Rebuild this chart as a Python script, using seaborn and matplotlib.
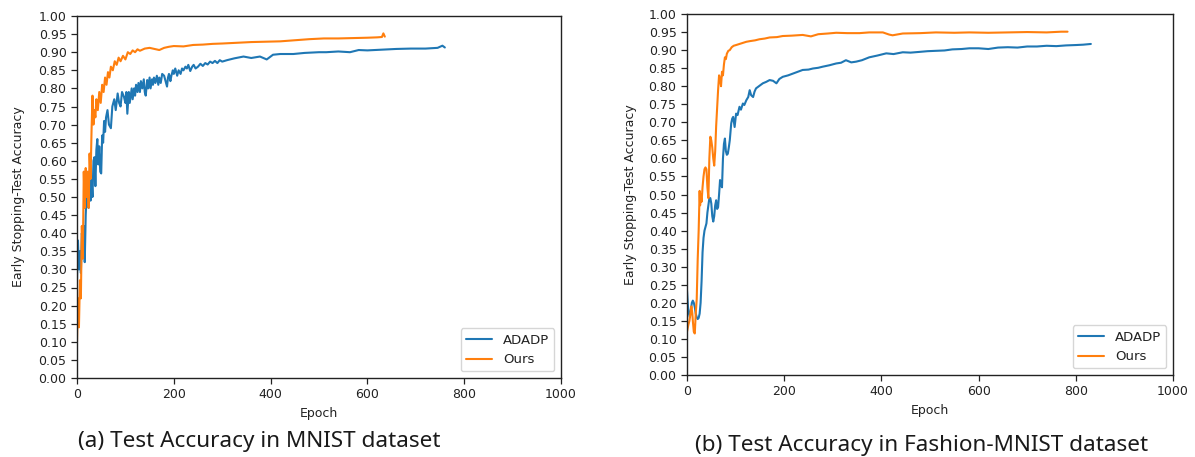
import matplotlib
matplotlib.use("Agg")
import matplotlib.pyplot as plt
import seaborn as sns
import numpy as np
import pandas as pd

# ---------------- data ----------------
series_names = ["ADADP", "Ours"]
x_ticks = [0, 200, 400, 600, 800, 1000]
y_ticks = [round(0.05 * i, 2) for i in range(21)]

mnist_adadp_epoch = [0, 2, 4, 6, 8, 10, 12, 14, 16, 18, 20, 22, 24, 26, 28, 30, 32, 34, 36, 38,
                     40, 42, 44, 46, 48, 50, 52, 54, 56, 58, 60, 63, 66, 70, 73, 77, 80, 84, 87, 90,
                     93, 97, 100, 102, 104, 107, 109, 111, 113, 115, 118, 120, 122, 125, 127, 130,
                     132, 135, 138, 140, 142, 145, 147, 150, 152, 155, 157, 159, 162, 165, 168, 170,
                     173, 176, 180, 183, 186, 188, 190, 193, 195, 198, 200, 203, 207, 210, 214, 217,
                     220, 224, 227, 230, 234, 238, 241, 245, 250, 255, 260, 265, 270, 275, 280, 285,
                     290, 295, 300, 310, 325, 344, 360, 378, 392, 405, 420, 447, 470, 500, 515, 540,
                     564, 582, 600, 630, 660, 690, 720, 745, 755, 760]
mnist_adadp_acc = [0.27, 0.38, 0.30, 0.35, 0.29, 0.40, 0.37, 0.42, 0.32, 0.45, 0.51, 0.48, 0.47, 0.52,
                   0.49, 0.55, 0.50, 0.60, 0.61, 0.53, 0.63, 0.66, 0.59, 0.64, 0.57, 0.565, 0.67, 0.65,
                   0.71, 0.68, 0.72, 0.74, 0.70, 0.69, 0.75, 0.77, 0.74, 0.786, 0.76, 0.75, 0.79, 0.777,
                   0.76, 0.79, 0.73, 0.79, 0.76, 0.78, 0.80, 0.77, 0.80, 0.78, 0.81, 0.79, 0.815, 0.79,
                   0.82, 0.80, 0.825, 0.79, 0.78, 0.823, 0.80, 0.83, 0.80, 0.825, 0.81, 0.83, 0.815,
                   0.835, 0.81, 0.83, 0.815, 0.84, 0.835, 0.82, 0.805, 0.83, 0.84, 0.82, 0.835, 0.85,
                   0.84, 0.855, 0.835, 0.85, 0.84, 0.855, 0.85, 0.86, 0.855, 0.865, 0.848, 0.86, 0.865,
                   0.855, 0.86, 0.868, 0.862, 0.87, 0.866, 0.874, 0.87, 0.876, 0.87, 0.878, 0.874,
                   0.878, 0.883, 0.888, 0.884, 0.888, 0.88, 0.893, 0.895, 0.895, 0.898, 0.90, 0.90,
                   0.902, 0.90, 0.906, 0.905, 0.907, 0.909, 0.91, 0.91, 0.912, 0.918, 0.913]

mnist_ours_epoch = [0, 2, 4, 6, 8, 10, 12, 14, 16, 18, 20, 22, 24, 26, 28, 30, 32, 34, 36, 38, 40, 43,
                    46, 49, 52, 55, 58, 61, 64, 67, 70, 74, 78, 82, 86, 90, 95, 100, 105, 110, 115,
                    120, 125, 130, 140, 150, 160, 170, 180, 190, 200, 220, 240, 260, 280, 300, 330,
                    360, 390, 420, 450, 480, 510, 540, 570, 600, 620, 630, 633, 636]
mnist_ours_acc = [0.10, 0.22, 0.14, 0.27, 0.22, 0.42, 0.33, 0.57, 0.47, 0.58, 0.50, 0.57, 0.47, 0.62,
                  0.55, 0.68, 0.78, 0.70, 0.74, 0.72, 0.77, 0.74, 0.79, 0.76, 0.81, 0.79, 0.83, 0.81,
                  0.845, 0.83, 0.86, 0.85, 0.875, 0.865, 0.885, 0.875, 0.89, 0.88, 0.90, 0.895, 0.905,
                  0.90, 0.908, 0.904, 0.91, 0.912, 0.909, 0.906, 0.912, 0.915, 0.917, 0.916, 0.92,
                  0.921, 0.923, 0.924, 0.926, 0.928, 0.929, 0.93, 0.933, 0.936, 0.938, 0.938, 0.939,
                  0.94, 0.941, 0.942, 0.952, 0.943]

fashion_adadp_epoch = [0, 2, 4, 6, 8, 10, 12, 14, 16, 18, 20, 22, 24, 26, 28, 30, 32, 34, 36, 38, 40,
                       42, 44, 46, 48, 50, 52, 54, 56, 58, 60, 62, 64, 66, 68, 70, 72, 74, 76, 78, 80,
                       82, 84, 86, 88, 91, 93, 95, 98, 101, 104, 108, 111, 115, 118, 122, 126, 129,
                       132, 136, 139, 142, 148, 156, 163, 170, 177, 184, 190, 197, 208, 218, 228, 238,
                       250, 259, 270, 279, 293, 307, 317, 327, 338, 348, 360, 375, 392, 410, 425, 444,
                       460, 478, 495, 512, 530, 546, 565, 581, 600, 620, 640, 660, 680, 700, 720, 740,
                       760, 780, 800, 815, 831]
fashion_adadp_acc = [0.234, 0.19, 0.17, 0.16, 0.18, 0.20, 0.206, 0.20, 0.188, 0.17, 0.16, 0.155, 0.158,
                     0.17, 0.20, 0.26, 0.34, 0.38, 0.40, 0.41, 0.42, 0.45, 0.47, 0.49, 0.49, 0.475,
                     0.44, 0.425, 0.44, 0.47, 0.484, 0.46, 0.465, 0.50, 0.54, 0.53, 0.52, 0.60, 0.64,
                     0.655, 0.62, 0.61, 0.613, 0.63, 0.65, 0.697, 0.71, 0.715, 0.687, 0.724, 0.72,
                     0.743, 0.735, 0.752, 0.748, 0.761, 0.77, 0.789, 0.775, 0.77, 0.785, 0.794, 0.80,
                     0.808, 0.812, 0.817, 0.815, 0.808, 0.82, 0.826, 0.83, 0.835, 0.84, 0.845, 0.846,
                     0.849, 0.851, 0.854, 0.858, 0.863, 0.865, 0.872, 0.866, 0.868, 0.872, 0.88, 0.885,
                     0.891, 0.889, 0.894, 0.893, 0.895, 0.897, 0.898, 0.899, 0.902, 0.903, 0.905, 0.905,
                     0.903, 0.907, 0.908, 0.907, 0.91, 0.91, 0.912, 0.911, 0.913, 0.914, 0.915, 0.917]

fashion_ours_epoch = [0, 3, 5, 7, 9, 11, 12, 14, 16, 18, 20, 22, 24, 26, 27, 28, 30, 32, 34, 36, 38,
                      40, 42, 44, 46, 48, 50, 52, 54, 56, 58, 60, 62, 64, 66, 68, 70, 72, 74, 76, 78,
                      80, 82, 85, 88, 92, 96, 101, 108, 115, 122, 130, 140, 149, 160, 170, 185, 197,
                      215, 238, 255, 270, 290, 307, 330, 355, 375, 403, 416, 423, 444, 480, 512, 550,
                      581, 620, 660, 700, 740, 770, 783]
fashion_ours_acc = [0.12, 0.14, 0.15, 0.17, 0.19, 0.17, 0.15, 0.12, 0.115, 0.17, 0.21, 0.32, 0.40,
                    0.51, 0.47, 0.50, 0.48, 0.52, 0.55, 0.57, 0.575, 0.57, 0.52, 0.49, 0.60, 0.66,
                    0.65, 0.63, 0.60, 0.58, 0.62, 0.69, 0.74, 0.79, 0.83, 0.82, 0.80, 0.84, 0.83, 0.86,
                    0.88, 0.875, 0.89, 0.898, 0.90, 0.908, 0.912, 0.914, 0.917, 0.92, 0.923, 0.925,
                    0.927, 0.93, 0.932, 0.935, 0.936, 0.939, 0.94, 0.942, 0.938, 0.944, 0.946, 0.948,
                    0.947, 0.947, 0.949, 0.949, 0.943, 0.941, 0.946, 0.947, 0.949, 0.948, 0.949, 0.948,
                    0.949, 0.95, 0.949, 0.951, 0.951]

captions = ["(a) Test Accuracy in MNIST dataset", "(b) Test Accuracy in Fashion-MNIST dataset"]
x_label = "Epoch"
y_label = "Early Stopping-Test Accuracy"

# ---------------- style ----------------
sns.set_style("ticks")
plt.rcParams["font.family"] = ["DejaVu Sans"]
plt.rcParams["axes.edgecolor"] = "#222222"
plt.rcParams["xtick.color"] = "#222222"
plt.rcParams["ytick.color"] = "#222222"
plt.rcParams["text.color"] = "#222222"
plt.rcParams["axes.labelcolor"] = "#222222"

colors = {"ADADP": "#1f77b4", "Ours": "#ff7f0e"}

fig = plt.figure(figsize=(11.95, 4.57), dpi=100)
ax1 = fig.add_axes([77 / 1195, 1 - 378 / 457, (561 - 77) / 1195, (378 - 16) / 457])
ax2 = fig.add_axes([687 / 1195, 1 - 375 / 457, (1173 - 687) / 1195, (375 - 14) / 457])

panels = [
    (ax1, mnist_adadp_epoch, mnist_adadp_acc, mnist_ours_epoch, mnist_ours_acc, 10),
    (ax2, fashion_adadp_epoch, fashion_adadp_acc, fashion_ours_epoch, fashion_ours_acc, 8),
]

for ax, ae, aa, oe, oa, lpad in panels:
    df_a = pd.DataFrame({"epoch": ae, "acc": aa})
    df_o = pd.DataFrame({"epoch": oe, "acc": oa})
    sns.lineplot(data=df_a, x="epoch", y="acc", ax=ax, color=colors["ADADP"],
                 label=series_names[0], estimator=None, linewidth=1.5)
    sns.lineplot(data=df_o, x="epoch", y="acc", ax=ax, color=colors["Ours"],
                 label=series_names[1], estimator=None, linewidth=1.5)
    ax.set_xlim(0, 1000)
    ax.set_ylim(0, 1.0)
    ax.set_xticks(x_ticks)
    ax.set_yticks(y_ticks)
    ax.set_yticklabels([f"{v:.2f}" for v in y_ticks])
    ax.tick_params(labelsize=9, length=4, width=0.9)
    ax.set_xlabel(x_label, fontsize=9)
    ax.set_ylabel(y_label, fontsize=9, labelpad=lpad)
    for s in ax.spines.values():
        s.set_linewidth(1.0)
    ax.legend(loc="lower right", fontsize=9.5, frameon=True, fancybox=True,
              framealpha=0.8, edgecolor="#cccccc", handlelength=2.0)

fig.text(259 / 1195, 1 - 442 / 457, captions[0], ha="center", va="center",
         fontsize=16.2, family=["Noto Sans", "DejaVu Sans"], color="#1a1a1a")
fig.text(922 / 1195, 1 - 445 / 457, captions[1], ha="center", va="center",
         fontsize=16.2, family=["Noto Sans", "DejaVu Sans"], color="#1a1a1a")

fig.savefig("out.png", dpi=100)
